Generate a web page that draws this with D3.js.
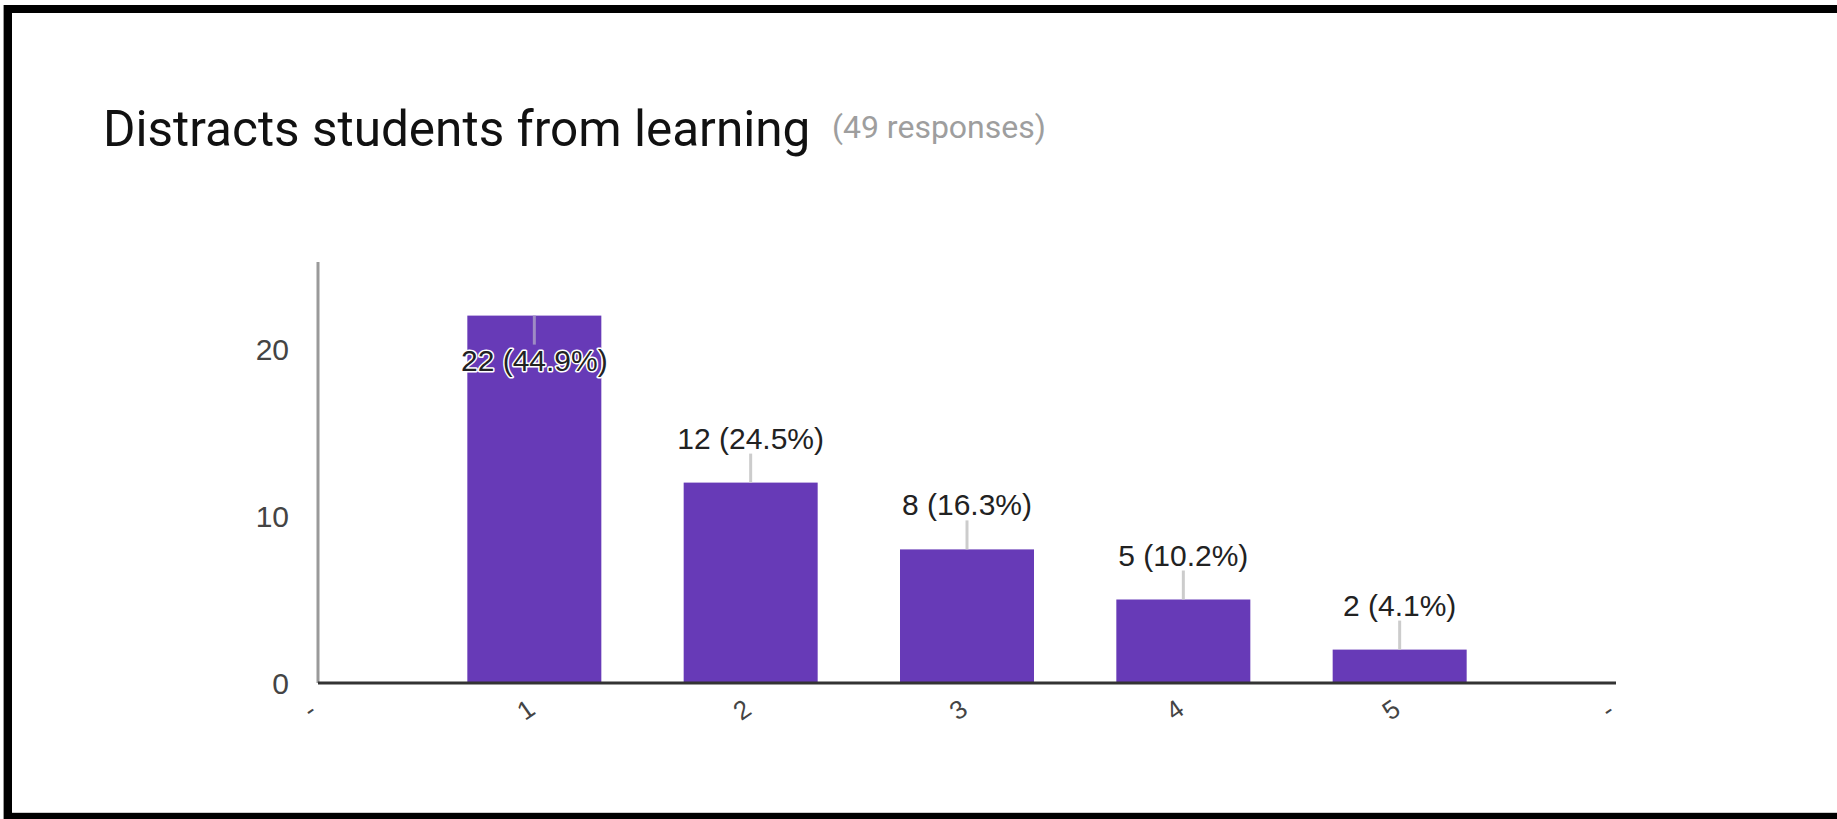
<!DOCTYPE html>
<html>
<head>
<meta charset="utf-8">
<script src="https://cdn.jsdelivr.net/npm/d3@7"></script>
<style>
  html, body { margin: 0; padding: 0; background: #fff; }
  svg { display: block; }
</style>
</head>
<body>
<svg id="chart" width="1837" height="819"></svg>
<script>
// ---- data ----
const title = "Distracts students from learning";
const subtitle = "(49 responses)";
const categories = [1, 2, 3, 4, 5];
const counts = [22, 12, 8, 5, 2];
const percents = ["44.9%", "24.5%", "16.3%", "10.2%", "4.1%"];
const yTicks = [0, 10, 20];
const xTickValues = [0, 1, 2, 3, 4, 5, 6];
const xTickLabels = ["-", "1", "2", "3", "4", "5", "-"];

const svg = d3.select("#chart");
const W = 1837, H = 819;

// frame
svg.append("rect").attr("x", 3).attr("y", 5).attr("width", 1).attr("height", H - 5).attr("fill", "#999");
svg.append("rect").attr("x", 4).attr("y", 5).attr("width", W - 4).attr("height", 8).attr("fill", "#000");
svg.append("rect").attr("x", 4).attr("y", 5).attr("width", 8).attr("height", H - 5).attr("fill", "#000");
svg.append("rect").attr("x", 12).attr("y", 812).attr("width", W - 12).attr("height", 1).attr("fill", "#ccc");
svg.append("rect").attr("x", 4).attr("y", 813).attr("width", W - 4).attr("height", 6).attr("fill", "#000");

// title
svg.append("text")
  .attr("x", 103).attr("y", 146)
  .attr("font-family", "Roboto, Arial, sans-serif")
  .attr("font-size", 49.5)
  .attr("fill", "#111")
  .text(title);
svg.append("text")
  .attr("x", 832).attr("y", 138)
  .attr("font-family", "Roboto, Arial, sans-serif")
  .attr("font-size", 32)
  .attr("fill", "#9e9e9e")
  .text(subtitle);

// scales
const x = d3.scaleLinear().domain([0, 6]).range([318, 1616]);
const y = d3.scaleLinear().domain([0, 20]).range([683, 349]);
const barW = 134;
const axisTop = 262;

// y axis line
svg.append("line")
  .attr("x1", x(0)).attr("x2", x(0))
  .attr("y1", axisTop).attr("y2", y(0))
  .attr("stroke", "#9a9a9a").attr("stroke-width", 3);

// y tick labels via axis
const yAxis = svg.append("g")
  .attr("transform", `translate(${x(0)},0)`)
  .call(d3.axisLeft(y).tickValues(yTicks).tickSize(0).tickPadding(29));
yAxis.select(".domain").remove();
yAxis.selectAll("text")
  .attr("font-family", "Arial, 'Liberation Sans', sans-serif")
  .attr("font-size", 30)
  .attr("fill", "#444")
  .attr("dy", "0.35em");

// bars
svg.append("g").selectAll("rect")
  .data(categories)
  .join("rect")
  .attr("x", (d) => x(d) - barW / 2)
  .attr("y", (d, i) => y(counts[i]))
  .attr("width", barW)
  .attr("height", (d, i) => y(0) - y(counts[i]))
  .attr("fill", "#673ab7");

// baseline
svg.append("line")
  .attr("x1", x(0)).attr("x2", x(6))
  .attr("y1", y(0)).attr("y2", y(0))
  .attr("stroke", "#333").attr("stroke-width", 3);

// x tick labels via axis (slanted)
const xAxis = svg.append("g")
  .attr("transform", `translate(0,${y(0)})`)
  .call(d3.axisBottom(x).tickValues(xTickValues).tickFormat((d, i) => xTickLabels[i]).tickSize(0).tickPadding(0));
xAxis.select(".domain").remove();
xAxis.selectAll("text")
  .attr("font-family", "Arial, 'Liberation Sans', sans-serif")
  .attr("font-size", 26)
  .attr("fill", "#444")
  .attr("y", 0)
  .attr("dy", 0)
  .attr("text-anchor", "middle")
  .attr("transform", "translate(-4,34) rotate(-35)");

// annotations
const stemLen = 29;
const ann = svg.append("g");
categories.forEach((c, i) => {
  const cx = x(c);
  const top = y(counts[i]);
  const inside = (top - stemLen - 30) < axisTop + 40;
  const stemEnd = inside ? top + stemLen : top - stemLen;
  ann.append("line")
    .attr("x1", cx).attr("x2", cx)
    .attr("y1", top).attr("y2", stemEnd)
    .attr("stroke", inside ? "#9e8cc4" : "#cccccc")
    .attr("stroke-width", 3);
  const t = ann.append("text")
    .attr("x", cx)
    .attr("y", inside ? stemEnd + 26 : stemEnd - 5)
    .attr("text-anchor", "middle")
    .attr("font-family", "Arial, 'Liberation Sans', sans-serif")
    .attr("font-size", 30)
    .attr("fill", "#222")
    .text(`${counts[i]} (${percents[i]})`);
  if (inside) {
    t.attr("stroke", "#fff").attr("stroke-width", 3).attr("paint-order", "stroke")
     .attr("stroke-linejoin", "round");
  }
});
</script>
</body>
</html>
